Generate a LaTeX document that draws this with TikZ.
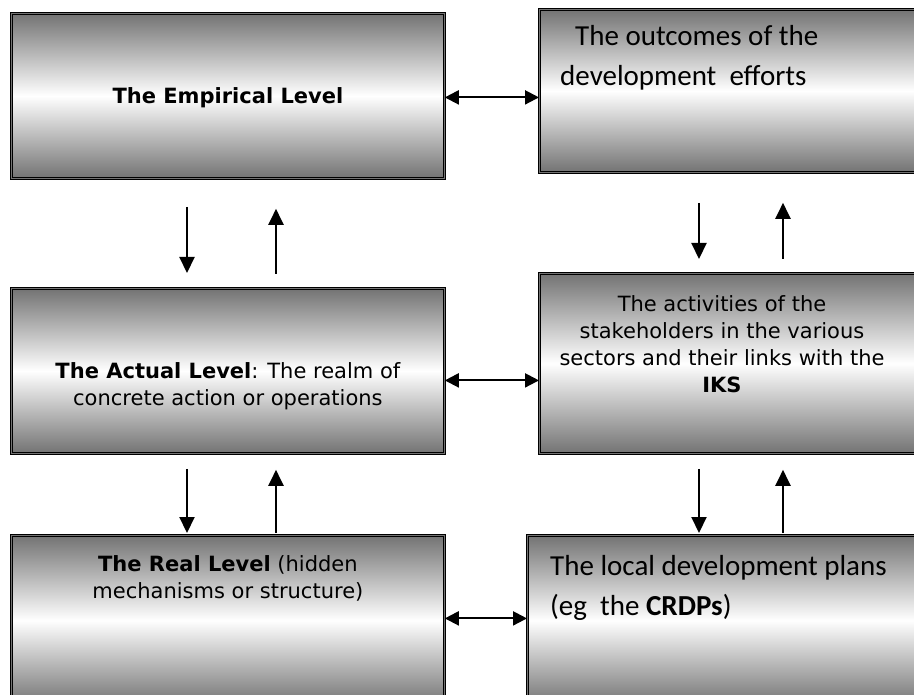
\documentclass[tikz,border=0pt]{standalone}
\usepackage{fontspec}
\setmainfont{DejaVu Sans}
\newfontfamily\calibri{Carlito}
\usetikzlibrary{arrows.meta, positioning}

\tikzset{
  level/.style={draw=black, line width=0.8pt, double=black!55, double distance=0.7pt,
    top color=black!55, bottom color=black!55, middle color=white,
    anchor=north west, inner sep=0pt},
  vtext/.style={font=\fontsize{21}{27}\selectfont, align=center, inner sep=0pt},
  ctext/.style={font=\calibri\fontsize{29}{40}\selectfont, align=left, inner sep=0pt},
  flow/.style={-{Triangle[length=16pt, width=15pt]}, line width=2.1pt},
  link/.style={{Triangle[length=14pt, width=14pt]}-{Triangle[length=14pt, width=14pt]}, line width=2.1pt},
}

\begin{document}
\begin{tikzpicture}[x=1pt, y=-1pt]
\useasboundingbox (0,0) rectangle (914,695);
\clip (0,0) rectangle (914,695);

% Niveles
\node[level, minimum width=433, minimum height=165] (emp) at (11,13) {};
\node[level, minimum width=433, minimum height=165] (act) at (11,288) {};
\node[level, minimum width=433, minimum height=170] (real) at (11,535) {};
\node[level, minimum width=390, minimum height=163] (out) at (539,9) {};
\node[level, minimum width=390, minimum height=180] (stk) at (539,273) {};
\node[level, minimum width=402, minimum height=170] (plan) at (527,535) {};

% Textos
\node[vtext, below=74pt of emp.north] (empT) {\textbf{The Empirical Level}};
\node[vtext, below=74pt of act.north] (actT) {\textbf{The Actual Level}: The realm of\\concrete action or operations};
\node[vtext, below=20pt of real.north] (realT) {\textbf{The Real Level} (hidden\\mechanisms or structure)};
\node[ctext, anchor=north west] (outT) at ([xshift=21pt, yshift=-16pt]out.north west)
  {\hspace*{15pt}The outcomes of the\\development\ \ efforts};
\node[vtext, anchor=north] (stkT) at ([xshift=183pt, yshift=-22pt]stk.north west)
  {The activities of the\\stakeholders in the various\\sectors and their links with the\\\textbf{IKS}};
\node[ctext, anchor=north west] (planT) at ([xshift=23pt, yshift=-20pt]plan.north west)
  {The local development plans\\(eg\ \ the \textbf{CRDPs})};

% Flechas verticales
\draw[flow, shorten <=28pt, shorten >=15pt] ([xshift=176pt]emp.south west) -- ([xshift=176pt]act.north west);
\draw[flow, shorten <=14pt, shorten >=30pt] ([xshift=265pt]act.north west) -- ([xshift=265pt]emp.south west);
\draw[flow, shorten <=15pt, shorten >=2pt] ([xshift=176pt]act.south west) -- ([xshift=176pt]real.north west);
\draw[flow, shorten <=2pt, shorten >=16pt] ([xshift=265pt]real.north west) -- ([xshift=265pt]act.south west);
\draw[flow, shorten <=30pt, shorten >=14pt] ([xshift=160pt]out.south west) -- ([xshift=160pt]stk.north west);
\draw[flow, shorten <=14pt, shorten >=30pt] ([xshift=244pt]stk.north west) -- ([xshift=244pt]out.south west);
\draw[flow, shorten <=15pt, shorten >=2pt] ([xshift=160pt]stk.south west) -- ([xshift=160pt]stk.south west |- plan.north);
\draw[flow, shorten <=2pt, shorten >=16pt] ([xshift=244pt]stk.south west |- plan.north) -- ([xshift=244pt]stk.south west);

% Flechas horizontales
\draw[link] ([yshift=-1.5pt]emp.east) -- ([yshift=-1.5pt]emp.east -| out.west);
\draw[link] ([yshift=-9.5pt]act.east) -- ([yshift=-9.5pt]act.east -| stk.west);
\draw[link] ([yshift=2pt]real.east) -- ([yshift=2pt]real.east -| plan.west);
\end{tikzpicture}
\end{document}
